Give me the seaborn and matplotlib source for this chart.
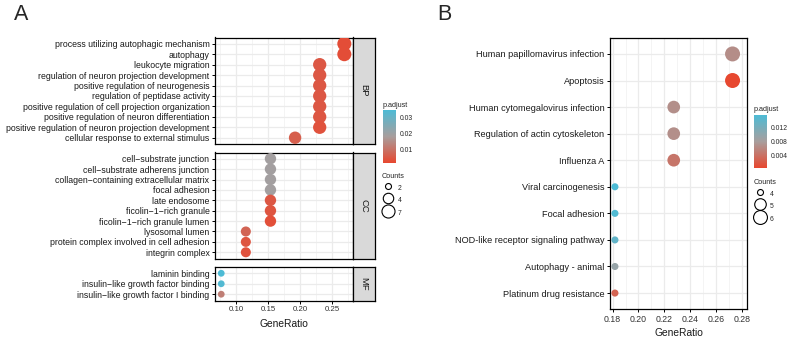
import numpy as np
import pandas as pd
import matplotlib
matplotlib.use('Agg')
import matplotlib.pyplot as plt
import matplotlib.cm as cm
import seaborn as sns
from matplotlib.colors import LinearSegmentedColormap, Normalize
from matplotlib.lines import Line2D

# ---- panel A: GO enrichment ----
bp_terms = ['process utilizing autophagic mechanism', 'autophagy', 'leukocyte migration',
            'regulation of neuron projection development', 'positive regulation of neurogenesis',
            'regulation of peptidase activity', 'positive regulation of cell projection organization',
            'positive regulation of neuron differentiation',
            'positive regulation of neuron projection development',
            'cellular response to external stimulus']
bp_counts = [7, 7, 6, 6, 6, 6, 6, 6, 6, 5]
bp_padj = [0.0025, 0.0025, 0.0045, 0.0045, 0.0045, 0.0045, 0.0045, 0.0042, 0.0035, 0.006]

cc_terms = ['cell\u2212substrate junction', 'cell\u2212substrate adherens junction',
            'collagen\u2212containing extracellular matrix', 'focal adhesion', 'late endosome',
            'ficolin\u22121\u2212rich granule', 'ficolin\u22121\u2212rich granule lumen',
            'lysosomal lumen', 'protein complex involved in cell adhesion', 'integrin complex']
cc_counts = [4, 4, 4, 4, 4, 4, 4, 3, 3, 3]
cc_padj = [0.019, 0.019, 0.019, 0.019, 0.0045, 0.004, 0.003, 0.007, 0.004, 0.0035]

mf_terms = ['laminin binding', 'insulin\u2212like growth factor binding',
            'insulin\u2212like growth factor I binding']
mf_counts = [2, 2, 2]
mf_padj = [0.035, 0.034, 0.012]

go_total = 26
go_padj_range = (0.0013, 0.035)

# ---- panel B: KEGG enrichment ----
kegg_terms = ['Human papillomavirus infection', 'Apoptosis', 'Human cytomegalovirus infection',
              'Regulation of actin cytoskeleton', 'Influenza A', 'Viral carcinogenesis',
              'Focal adhesion', 'NOD-like receptor signaling pathway', 'Autophagy - animal',
              'Platinum drug resistance']
kegg_counts = [6, 6, 5, 5, 5, 4, 4, 4, 4, 4]
kegg_padj = [0.0066, 0.0006, 0.0068, 0.0068, 0.0045, 0.0156, 0.0152, 0.0138, 0.0095, 0.003]
kegg_total = 22
kegg_padj_range = (0.0005, 0.0156)

sns.set_style('white')
plt.rcParams['font.family'] = ['Liberation Sans', 'DejaVu Sans']

W, H = 791, 338
fig = plt.figure(figsize=(W / 100, H / 100), dpi=100)


def box(x0, y0, x1, y1):
    return [x0 / W, 1 - y1 / H, (x1 - x0) / W, (y1 - y0) / H]


cmap = LinearSegmentedColormap.from_list('padj', ['#E8472F', '#A89E9D', '#4DBBD5'])


def size_map(levels, dmin, dmax):
    lo, hi = min(levels), max(levels)
    # ggplot style area scale: diameter grows with sqrt of the value
    return {c: (dmin + (dmax - dmin) * np.sqrt((c - lo) / (hi - lo))) ** 2 for c in levels}


def dot_panel(ax, terms, counts, padj, total, norm, sizes, xlim, major, minor, show_x, fs):
    df = pd.DataFrame({'term': terms, 'count': counts, 'padj': padj})
    df['GeneRatio'] = df['count'] / total
    sns.scatterplot(data=df, x='GeneRatio', y='term', hue='padj', palette=cmap, hue_norm=norm,
                    size='count', sizes=sizes, legend=False, edgecolor='none', ax=ax, zorder=3)
    n = len(terms)
    ax.set_ylim(n - 0.4, -0.6)
    ax.set_xlim(*xlim)
    ax.set_xticks(major)
    ax.set_xticks(minor, minor=True)
    ax.grid(which='major', color='#EBEBEB', lw=0.9)
    ax.grid(which='minor', axis='x', color='#F0F0F0', lw=0.5)
    ax.set_axisbelow(True)
    for s in ax.spines.values():
        s.set_color('black')
        s.set_linewidth(0.9)
    ax.tick_params(axis='y', length=2.5, width=0.7, pad=1.5, labelsize=fs, color='black',
                   labelcolor='#1A1A1A', left=True)
    ax.tick_params(which='minor', length=0)
    if show_x:
        ax.tick_params(axis='x', length=2.5, width=0.7, pad=1.5, labelsize=fs - 0.6,
                       color='black', labelcolor='#333333', bottom=True)
    else:
        ax.tick_params(axis='x', length=0, labelbottom=False)
    ax.set_xlabel('')
    ax.set_ylabel('')


def strip(y0, y1, label):
    sax = fig.add_axes(box(353, y0, 375, y1))
    sax.set_facecolor('#D9D9D9')
    sax.set_xticks([])
    sax.set_yticks([])
    for s in sax.spines.values():
        s.set_color('black')
        s.set_linewidth(0.9)
    sax.text(0.5, 0.5, label, rotation=270, ha='center', va='center', fontsize=6.8,
             color='#1A1A1A', transform=sax.transAxes)


def legends(cb_box, ticks, title_xy, count_levels, dmin, dmax, counts_xy):
    cax = fig.add_axes(box(*cb_box))
    cb = fig.colorbar(cm.ScalarMappable(norm=Normalize(*ticks[0]), cmap=cmap), cax=cax)
    cb.outline.set_visible(False)
    cb.set_ticks(ticks[1])
    cax.tick_params(direction='in', color='white', length=2.5, width=0.6, labelsize=4.9,
                    left=True, right=True, pad=2.5)
    fig.text(title_xy[0] / W, 1 - title_xy[1] / H, 'p.adjust', fontsize=5.2, va='baseline')
    handles = [Line2D([], [], ls='', marker='o', markerfacecolor='none', markeredgecolor='black',
                      markeredgewidth=0.8, markersize=dmin + (dmax - dmin) *
                      np.sqrt((c - count_levels[0]) / (count_levels[-1] - count_levels[0])))
               for c in count_levels]
    leg = fig.legend(handles, [str(c) for c in count_levels], title='Counts', loc='upper left',
                     bbox_to_anchor=(counts_xy[0] / W, 1 - counts_xy[1] / H), frameon=False,
                     fontsize=4.9, title_fontsize=5.2, handletextpad=0.4, labelspacing=0.35,
                     handleheight=1.9, borderpad=0, borderaxespad=0, handlelength=1.9)
    leg._legend_box.align = 'left'


# ---- panel A ----
normA = Normalize(*go_padj_range)
sizesA = size_map([2, 3, 4, 5, 6, 7], 4.9, 10.1)
xlimA = (0.0672, 0.2828)
majA = [0.10, 0.15, 0.20, 0.25]
minA = [0.075, 0.125, 0.175, 0.225, 0.275]
facets = [(bp_terms, bp_counts, bp_padj, 37.5, 144, 'BP', False),
          (cc_terms, cc_counts, cc_padj, 152.5, 258.5, 'CC', False),
          (mf_terms, mf_counts, mf_padj, 267, 300.5, 'MF', True)]
for terms, counts, padj, y0, y1, lab, last in facets:
    ax = fig.add_axes(box(215, y0, 353, y1))
    dot_panel(ax, terms, counts, padj, go_total, normA, sizesA, xlimA, majA, minA, last, 6.3)
    strip(y0, y1, lab)
fig.text(284 / W, 1 - 324 / H, 'GeneRatio', ha='center', va='center', fontsize=7.4,
         color='#1A1A1A')
fig.text(14 / W, 1 - 20 / H, 'A', fontsize=15.5, va='baseline')
legends((383, 110, 396, 163), (go_padj_range, [0.01, 0.02, 0.03]), (383, 107),
        [2, 4, 7], 4.3, 9.4, (382, 173))

# ---- panel B ----
normB = Normalize(*kegg_padj_range)
sizesB = size_map([4, 5, 6], 5.1, 10.8)
axB = fig.add_axes(box(610, 38, 747, 309))
dot_panel(axB, kegg_terms, kegg_counts, kegg_padj, kegg_total, normB, sizesB,
          (0.178, 0.2839), [0.18, 0.20, 0.22, 0.24, 0.26, 0.28],
          [0.19, 0.21, 0.23, 0.25, 0.27], True, 6.6)
axB.tick_params(axis='x', labelsize=6.3)
fig.text(678.5 / W, 1 - 333 / H, 'GeneRatio', ha='center', va='center', fontsize=7.4,
         color='#1A1A1A')
fig.text(437 / W, 1 - 20 / H, 'B', fontsize=15.5, va='baseline')
legends((754, 115, 767, 168), (kegg_padj_range, [0.004, 0.008, 0.012]), (754, 111),
        [4, 5, 6], 4.3, 10.0, (754, 179))

fig.savefig('out.png', dpi=100)
